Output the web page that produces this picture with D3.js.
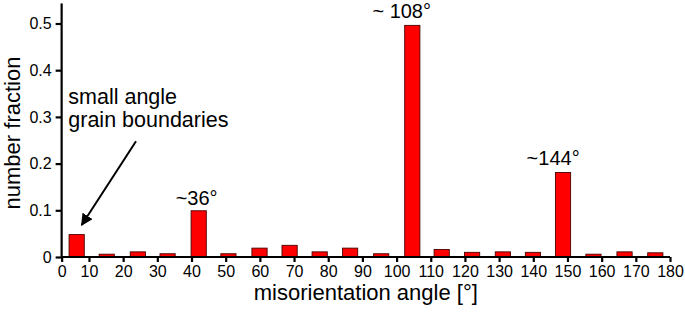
<!DOCTYPE html>
<html>
<head>
<meta charset="utf-8">
<script src="https://cdn.jsdelivr.net/npm/d3@7"></script>
<style>
  html, body { margin: 0; padding: 0; background: #fff; }
  svg { display: block; }
  text { font-family: "Liberation Sans", Arial, Helvetica, sans-serif; fill: #000; }
</style>
</head>
<body>
<svg id="chart" width="685" height="312"></svg>
<script>
// ---- data ----
const binCenters = [6.4, 15.2, 24.3, 33.0, 42.1, 50.8, 59.9, 68.7, 77.5, 86.4,
                    95.5, 104.6, 113.2, 122.1, 131.1, 139.9, 148.7, 157.6, 166.7, 175.7];
const fractions  = [0.048, 0.006, 0.011, 0.007, 0.099, 0.007, 0.019, 0.025, 0.011, 0.019,
                    0.007, 0.496, 0.016, 0.010, 0.011, 0.010, 0.181, 0.006, 0.011, 0.009];
const binWidth = 4.45;
const xTickValues = [2, 10, 20, 30, 40, 50, 60, 70, 80, 90, 100, 110, 120, 130, 140, 150, 160, 170, 180];
const xTickLabels = ["0","10","20","30","40","50","60","70","80","90","100","110","120","130","140","150","160","170","180"];
const yTickValues = [0, 0.1, 0.2, 0.3, 0.4, 0.5];
const yTickLabels = ["0", "0.1", "0.2", "0.3", "0.4", "0.5"];
const peakLabels = [
  { text: "~36°",   x: 41.5,  y: 0.111 },
  { text: "~ 108°", x: 101.5, y: 0.511 },
  { text: "~144°",  x: 145.8, y: 0.197 }
];
const noteLines = ["small angle", "grain boundaries"];

// ---- scales ----
const svg = d3.select("#chart");
const x = d3.scaleLinear().domain([0, 180]).range([54.8, 670]);
const y = d3.scaleLinear().domain([0, 0.5]).range([257, 23.5]);
const xMin = 2, yMax = 0.543;

// ---- bars ----
svg.append("g").selectAll("rect").data(binCenters).join("rect")
  .attr("x", (d) => x(d - binWidth / 2))
  .attr("width", x(binWidth) - x(0))
  .attr("y", (d, i) => y(fractions[i]))
  .attr("height", (d, i) => y(0) - y(fractions[i]))
  .attr("fill", "#ff0000")
  .attr("stroke", "#4a0000")
  .attr("stroke-width", 0.9);

// ---- axes ----
const xAxis = d3.axisBottom(x)
  .tickValues(xTickValues)
  .tickFormat((d, i) => xTickLabels[i])
  .tickSize(5).tickPadding(3).tickSizeOuter(0);
const gx = svg.append("g").attr("transform", `translate(0,${y(0)})`).call(xAxis);
gx.select(".domain").attr("d", `M${x(xMin)},0H${x(180)}`);
gx.selectAll("path, line").attr("stroke", "#000").attr("stroke-width", 2.2);
gx.selectAll("text").attr("font-size", "16px").attr("dy", "0.78em");

const yAxis = d3.axisLeft(y)
  .tickValues(yTickValues)
  .tickFormat((d, i) => yTickLabels[i])
  .tickSize(6).tickPadding(4).tickSizeOuter(0);
const gy = svg.append("g").attr("transform", `translate(${x(xMin)},0)`).call(yAxis);
gy.select(".domain").attr("d", `M0,${y(0)}V${y(yMax)}`);
gy.selectAll("path, line").attr("stroke", "#000").attr("stroke-width", 2.2);
gy.selectAll("text").attr("font-size", "16px");

// ---- axis titles ----
svg.append("text")
  .attr("x", (x(xMin) + x(180)) / 2).attr("y", 300)
  .attr("text-anchor", "middle").attr("font-size", "22px")
  .text("misorientation angle [°]");
svg.append("text")
  .attr("transform", `translate(20,${133}) rotate(-90)`)
  .attr("text-anchor", "middle").attr("font-size", "22px")
  .text("number fraction");

// ---- peak labels ----
svg.append("g").selectAll("text").data(peakLabels).join("text")
  .attr("x", (d) => x(d.x)).attr("y", (d) => y(d.y))
  .attr("text-anchor", "middle").attr("font-size", "20px")
  .text((d) => d.text);

// ---- note with arrow ----
svg.append("g").selectAll("text").data(noteLines).join("text")
  .attr("x", x(3.95)).attr("y", (d, i) => y(0.3276) + i * 23)
  .attr("font-size", "21.5px")
  .text((d) => d);

svg.append("defs").append("marker")
  .attr("id", "arrow").attr("viewBox", "0 0 10 10")
  .attr("refX", 9).attr("refY", 5)
  .attr("markerWidth", 6).attr("markerHeight", 6)
  .attr("markerUnits", "strokeWidth")
  .attr("orient", "auto")
  .append("path").attr("d", "M0,0L10,5L0,10Z").attr("fill", "#000");
svg.append("line")
  .attr("x1", x(23.76)).attr("y1", y(0.248))
  .attr("x2", x(7.87)).attr("y2", y(0.0685))
  .attr("stroke", "#000").attr("stroke-width", 2)
  .attr("marker-end", "url(#arrow)");
</script>
</body>
</html>
